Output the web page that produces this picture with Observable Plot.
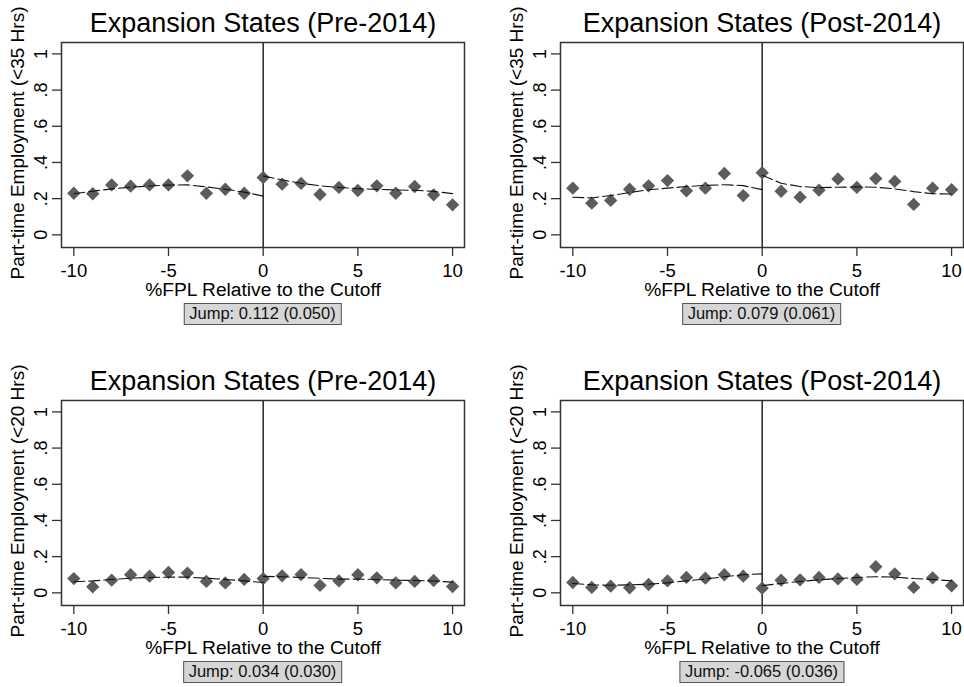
<!DOCTYPE html>
<html><head><meta charset="utf-8">
<script src="https://cdn.jsdelivr.net/npm/d3@7"></script>
<script src="https://cdn.jsdelivr.net/npm/@observablehq/plot@0.6"></script>
<style>
body{margin:0;background:#fff;}
#root{position:relative;width:964px;height:687px;background:#fff;font-family:"Liberation Sans",Arial,sans-serif;overflow:hidden;}
.panel{position:absolute;}
.jump{position:absolute;box-sizing:border-box;height:22px;border:1.5px solid #555;background:#d6d6d6;font-size:16.5px;line-height:19px;padding:0 5px;white-space:nowrap;color:#111;transform:translateX(-50%);}
</style></head><body><div id="root"></div>
<script>
// ---- data ----
const xBins = [-10,-9,-8,-7,-6,-5,-4,-3,-2,-1,0,1,2,3,4,5,6,7,8,9,10];
const xLeft = [-10,-9,-8,-7,-6,-5,-4,-3,-2,-1,0];
const xRight = [0,1,2,3,4,5,6,7,8,9,10];
const xTicks = [-10,-5,0,5,10];
const xTickLabels = ["-10","-5","0","5","10"];
const yTicks = [0,0.2,0.4,0.6,0.8,1];
const yTickLabels = ["0",".2",".4",".6",".8","1"];
const titles = ["Expansion States (Pre-2014)","Expansion States (Post-2014)","Expansion States (Pre-2014)","Expansion States (Post-2014)"];
const yLabels = ["Part-time Employment (<35 Hrs)","Part-time Employment (<35 Hrs)","Part-time Employment (<20 Hrs)","Part-time Employment (<20 Hrs)"];
const xLabel = "%FPL Relative to the Cutoff";
const jumps = ["Jump: 0.112 (0.050)","Jump: 0.079 (0.061)","Jump: 0.034 (0.030)","Jump: -0.065 (0.036)"];

const p1Points = [0.230,0.227,0.276,0.269,0.276,0.276,0.326,0.230,0.252,0.230,0.317,0.280,0.284,0.223,0.262,0.245,0.271,0.230,0.267,0.221,0.166];
const p1FitLeft = [0.227,0.241,0.254,0.263,0.270,0.275,0.276,0.265,0.252,0.236,0.214];
const p1FitRight = [0.326,0.303,0.285,0.271,0.262,0.255,0.251,0.248,0.246,0.240,0.228];

const p2Points = [0.258,0.175,0.190,0.252,0.271,0.300,0.243,0.258,0.339,0.217,0.343,0.241,0.208,0.247,0.309,0.262,0.311,0.295,0.168,0.258,0.249];
const p2FitLeft = [0.208,0.204,0.217,0.234,0.249,0.258,0.267,0.273,0.277,0.272,0.250];
const p2FitRight = [0.329,0.285,0.267,0.261,0.263,0.265,0.263,0.254,0.239,0.227,0.226];

const p3Points = [0.079,0.033,0.070,0.100,0.092,0.113,0.109,0.063,0.055,0.074,0.079,0.094,0.101,0.041,0.066,0.100,0.083,0.055,0.063,0.068,0.035];
const p3FitLeft = [0.061,0.066,0.074,0.081,0.085,0.087,0.087,0.081,0.074,0.066,0.057];
const p3FitRight = [0.091,0.089,0.085,0.080,0.076,0.076,0.074,0.070,0.068,0.065,0.059];

const p4Points = [0.057,0.030,0.037,0.028,0.046,0.066,0.085,0.081,0.100,0.092,0.026,0.070,0.072,0.085,0.077,0.074,0.144,0.105,0.030,0.083,0.039];
const p4FitLeft = [0.052,0.044,0.042,0.044,0.048,0.055,0.066,0.076,0.089,0.100,0.105];
const p4FitRight = [0.040,0.052,0.063,0.072,0.079,0.085,0.089,0.087,0.079,0.074,0.066];

const panelPoints = [p1Points,p2Points,p3Points,p4Points];
const panelFitLeft = [p1FitLeft,p2FitLeft,p3FitLeft,p4FitLeft];
const panelFitRight = [p1FitRight,p2FitRight,p3FitRight,p4FitRight];

// ---- layout ----
const panelLeft = [0,499,0,499];
const panelTop = [0,0,358,358];
const FONT = '"Liberation Sans", Arial, sans-serif';

function makePanel(i){
  const pts = xBins.map((x,k)=>({x, y: panelPoints[i][k]}));
  const fl = xLeft.map((x,k)=>({x, y: panelFitLeft[i][k]}));
  const fr = xRight.map((x,k)=>({x, y: panelFitRight[i][k]}));
  return Plot.plot({
    width: 465, height: 300,
    marginLeft: 61, marginRight: 1, marginTop: 42, marginBottom: 53,
    style: {fontFamily: FONT, color: "#000", background: "transparent", overflow: "visible"},
    x: {domain: [-10.65, 10.63]},
    y: {domain: [-0.07, 1.063]},
    marks: [
      Plot.axisX({ticks: xTicks, tickSize: 9, tickFormat: () => "", label: null, stroke: "#333", strokeWidth: 1.3}),
      Plot.axisY({ticks: yTicks, tickSize: 9, tickFormat: () => "", label: null, stroke: "#333", strokeWidth: 1.3}),
      Plot.text(xTicks, {x: d => d, text: (d,k) => xTickLabels[k], frameAnchor: "bottom", dy: 23.6, fontSize: 18.5, lineAnchor: "middle", textAnchor: "middle", fill: "#000"}),
      Plot.text(yTicks, {y: d => d, text: (d,k) => yTickLabels[k], frameAnchor: "left", dx: -20.4, rotate: -90, fontSize: 18, lineAnchor: "middle", textAnchor: "middle", fill: "#000"}),
      Plot.text([titles[i]], {text: d => d, frameAnchor: "top", dy: -18.8, fontSize: 27, lineAnchor: "middle", textAnchor: "middle", fill: "#000"}),
      Plot.text([yLabels[i]], {text: d => d, frameAnchor: "left", dx: -44, dy: -2, rotate: -90, fontSize: 19, lineAnchor: "middle", textAnchor: "middle", fill: "#000"}),
      Plot.text([xLabel], {text: d => d, frameAnchor: "bottom", dy: 42.6, fontSize: 19.2, lineAnchor: "middle", textAnchor: "middle", fill: "#000"}),
      Plot.ruleX([0], {stroke: "#333", strokeWidth: 1.6}),
      Plot.dot(pts, {x: "x", y: "y", symbol: "diamond2", r: 6, fill: "#5c5c5c", stroke: "none"}),
      Plot.line(fl, {x: "x", y: "y", stroke: "#111", strokeWidth: 1.1, strokeDasharray: "11,4"}),
      Plot.line(fr, {x: "x", y: "y", stroke: "#111", strokeWidth: 1.1, strokeDasharray: "11,4"}),
      Plot.frame({stroke: "#333", strokeWidth: 1.5})
    ]
  });
}

const root = document.getElementById("root");
for (let i = 0; i < 4; i++) {
  const wrap = document.createElement("div");
  wrap.className = "panel";
  wrap.style.left = panelLeft[i] + "px";
  wrap.style.top = panelTop[i] + "px";
  wrap.appendChild(makePanel(i));
  root.appendChild(wrap);
  const box = document.createElement("div");
  box.className = "jump";
  box.textContent = jumps[i];
  box.style.left = (panelLeft[i] + 61 + 403/2) + "px";
  box.style.top = (panelTop[i] + 303) + "px";
  root.appendChild(box);
}
</script>
</body></html>
